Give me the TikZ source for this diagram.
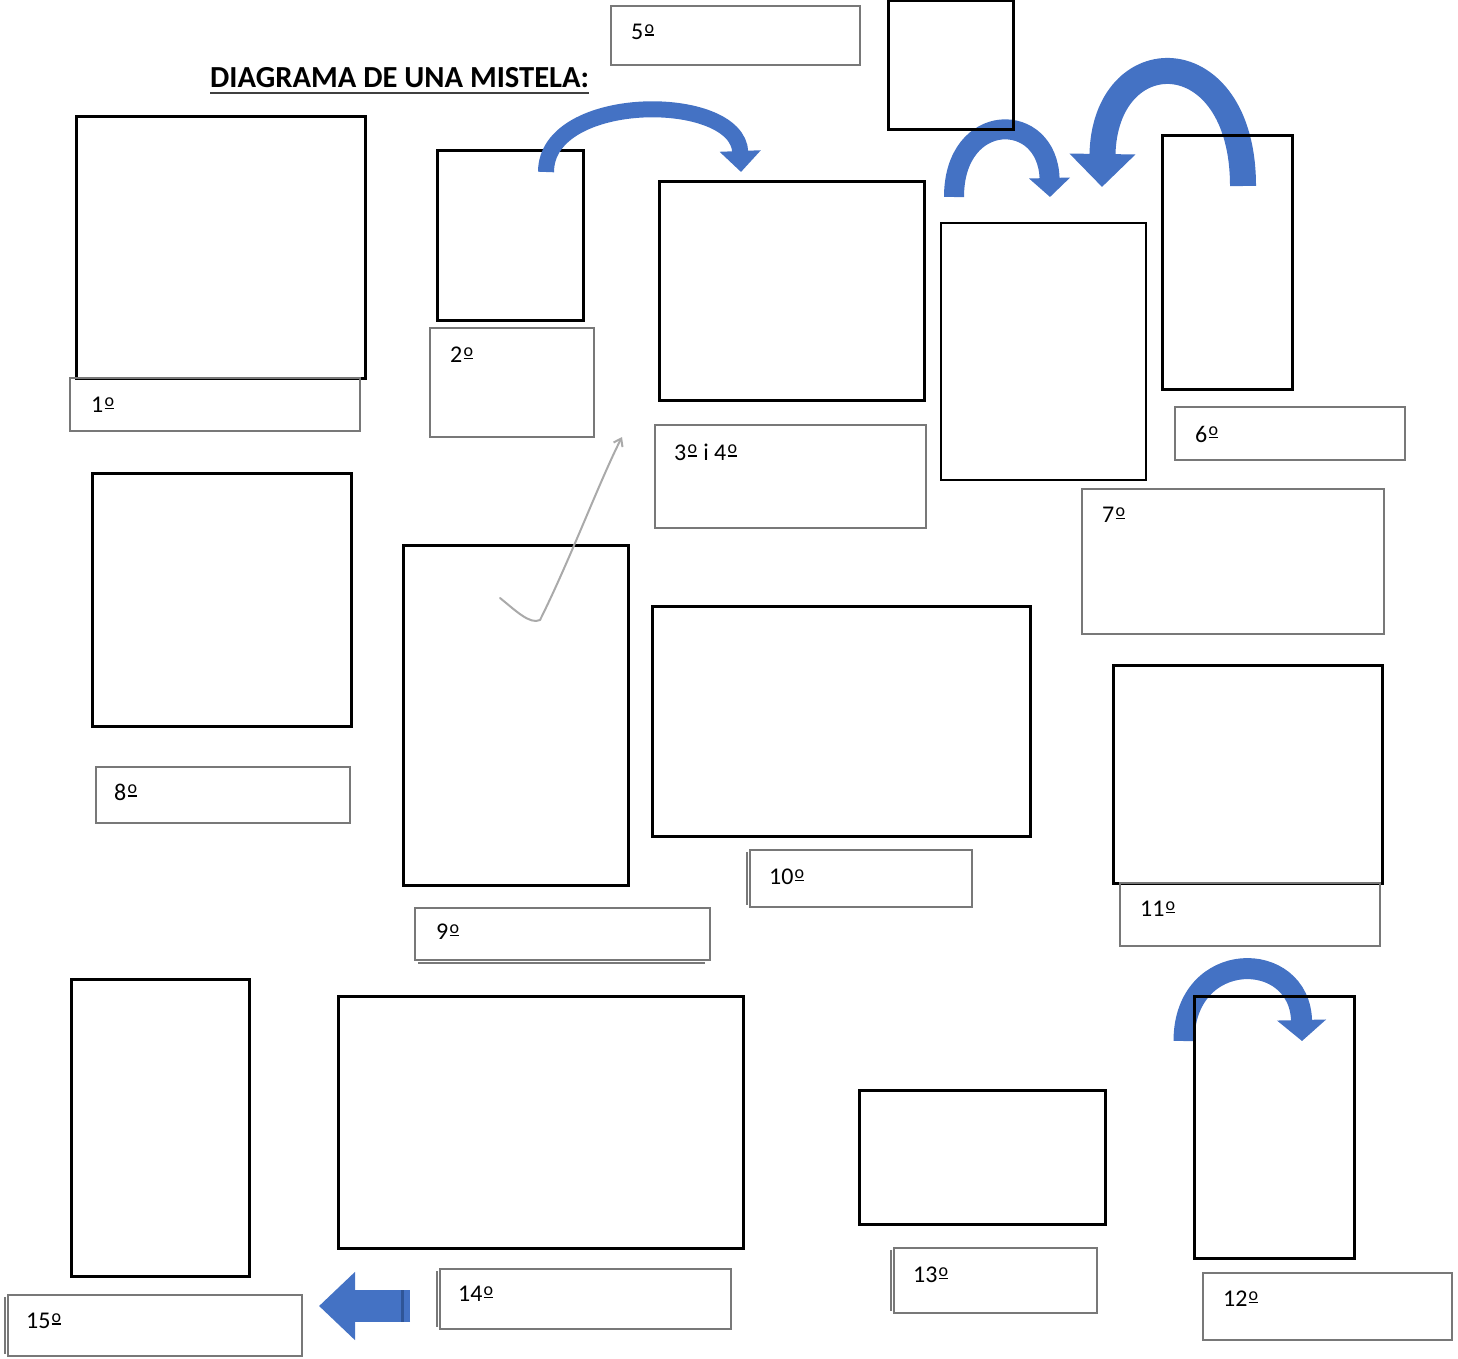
\documentclass[tikz,border=0pt]{standalone}
\usepackage{fontspec}
\setmainfont{Carlito}
\usetikzlibrary{arrows.meta,calc}
\definecolor{bandblue}{RGB}{68,114,196}
\definecolor{banddark}{RGB}{47,85,151}
\definecolor{taggrey}{RGB}{120,120,120}
\definecolor{pencil}{RGB}{170,170,170}
\newcommand{\ordo}{\kern1.2pt\raisebox{3.6pt}{\fontsize{18}{18}\selectfont\vbox{\hbox{o}\kern1.2pt\hrule height 1.6pt}}\kern0.8pt}

\begin{document}
\begin{tikzpicture}[x=1pt, y=-1pt,
    frame/.style={draw, line width=3pt, anchor=north west, inner sep=0pt, outer sep=0pt},
    tag/.style={draw=taggrey, line width=1.2pt, anchor=north west, inner sep=0pt, outer sep=0pt},
    num/.style={anchor=west, inner sep=0pt, font=\fontsize{24}{28}\selectfont},
    band/.style={draw=bandblue, line width=#1},
    title/.style={anchor=west, inner sep=0pt, font=\fontsize{30.6}{36}\selectfont\bfseries}]
  \useasboundingbox (0,0) rectangle (1458,1359);

  % title
  \node[title] (head) at (210,78) {DIAGRAMA DE UNA MISTELA:};
  \draw[line width=2pt, black!75] ($(head.west)+(0,15)$) -- ($(head.east)+(0,15)$);

  % blue arrows behind the frames
  \coordinate (b1) at (954,197);
  \coordinate (b2) at (1050,197);
  \draw[band=20pt, -{Triangle[length=19pt,width=40pt]}] (b1) .. controls (954,110) and (1048,110) .. (b2);
  \coordinate (c1) at (1243,186);
  \coordinate (c2) at (1102,187);
  \draw[band=26pt, -{Triangle[length=33pt,width=64pt]}] (c1) .. controls (1243,38) and (1104,38) .. (c2);
  \coordinate (d1) at (1184,1041);
  \coordinate (d2) at (1302,1041);
  \draw[band=21pt, -{Triangle[length=21pt,width=48pt]}] (d1) .. controls (1184,948) and (1300,948) .. (d2);
  \coordinate (e1) at (410,1306);
  \coordinate (e2) at (319,1306);
  \draw[band=32pt, -{Triangle[length=36pt,width=66pt]}] (e1) -- (e2);
  \draw[banddark, line width=3pt] (402,1290) -- (402,1322);

  % picture frames
  \node[frame, minimum width=289pt, minimum height=261pt] (f1) at (76,117) {};
  \node[frame, minimum width=146pt, minimum height=169pt] (f2) at (437,151) {};
  \node[frame, minimum width=265pt, minimum height=218pt] (f3) at (659,182) {};
  \node[frame, minimum width=125pt, minimum height=129pt] (f5) at (888,1) {};
  \node[frame, line width=2pt, minimum width=205pt, minimum height=257pt] (f7) at (941,223) {};
  \node[frame, minimum width=130pt, minimum height=253pt] (f6) at (1162,136) {};
  \node[frame, minimum width=259pt, minimum height=253pt] (f8) at (92,473) {};
  \node[frame, minimum width=225pt, minimum height=340pt] (f9) at (403,545) {};
  \node[frame, minimum width=378pt, minimum height=230pt] (f10) at (652,606) {};
  \node[frame, minimum width=269pt, minimum height=218pt] (f11) at (1113,665) {};
  \node[frame, minimum width=178pt, minimum height=297pt] (f15) at (71,979) {};
  \node[frame, minimum width=405pt, minimum height=252pt] (f14) at (338,996) {};
  \node[frame, minimum width=246pt, minimum height=134pt] (f13) at (859,1090) {};
  \node[frame, minimum width=160pt, minimum height=262pt] (f12) at (1194,996) {};

  % arrow from 2 to 3 lies over the frame
  \coordinate (a1) at (546,172);
  \coordinate (a2) at (741,172);
  \draw[band=16pt, -{Triangle[length=21pt,width=40pt]}] (a1) .. controls (546,92) and (738,92) .. (a2);

  % label boxes
  \node[tag, minimum width=249pt, minimum height=59pt] (t5) at (611,6) {};
  \node[tag, minimum width=290pt, minimum height=53pt] (t1) at (70,378) {};
  \node[tag, minimum width=164pt, minimum height=109pt] (t2) at (430,328) {};
  \node[tag, minimum width=271pt, minimum height=103pt] (t34) at (655,425) {};
  \node[tag, minimum width=230pt, minimum height=53pt] (t6) at (1175,407) {};
  \node[tag, minimum width=302pt, minimum height=145pt] (t7) at (1082,489) {};
  \node[tag, minimum width=254pt, minimum height=56pt] (t8) at (96,767) {};
  \node[tag, minimum width=295pt, minimum height=52pt] (t9) at (415,908) {};
  \node[tag, minimum width=222pt, minimum height=57pt] (t10) at (750,850) {};
  \node[tag, minimum width=260pt, minimum height=63pt] (t11) at (1120,883) {};
  \node[tag, minimum width=203pt, minimum height=65pt] (t13) at (894,1248) {};
  \node[tag, minimum width=249pt, minimum height=67pt] (t12) at (1203,1273) {};
  \node[tag, minimum width=291pt, minimum height=60pt] (t14) at (440,1269) {};
  \node[tag, minimum width=294pt, minimum height=61pt] (t15) at (8,1295) {};
  % doubled edges
  \draw[taggrey, line width=1.2pt] ($(t9.south west)+(3,3)$) -- ($(t9.south east)+(-5,3)$);
  \draw[taggrey, line width=1.2pt] ($(t10.north west)+(-3,2)$) -- ($(t10.south west)+(-3,-2)$);
  \draw[taggrey, line width=1.2pt] ($(t13.north west)+(-3,2)$) -- ($(t13.south west)+(-3,-2)$);
  \draw[taggrey, line width=1.2pt] ($(t14.north west)+(-3,2)$) -- ($(t14.south west)+(-3,-2)$);
  \draw[taggrey, line width=1.2pt] ($(t15.north west)+(-3,2)$) -- ($(t15.south west)+(-3,-2)$);

  \node[num] at ([shift={(20,26)}]t5.north west) {5\ordo};
  \node[num] at ([shift={(21,27)}]t1.north west) {1\ordo};
  \node[num] at ([shift={(20,27)}]t2.north west) {2\ordo};
  \node[num] at ([shift={(19,27)}]t34.north west) {3\ordo{} i 4\ordo};
  \node[num] at ([shift={(20,27)}]t6.north west) {6\ordo};
  \node[num] at ([shift={(20,26)}]t7.north west) {7\ordo};
  \node[num] at ([shift={(18,25)}]t8.north west) {8\ordo};
  \node[num] at ([shift={(21,24)}]t9.north west) {9\ordo};
  \node[num] at ([shift={(19,27)}]t10.north west) {10\ordo};
  \node[num] at ([shift={(20,26)}]t11.north west) {11\ordo};
  \node[num] at ([shift={(19,27)}]t13.north west) {13\ordo};
  \node[num] at ([shift={(20,26)}]t12.north west) {12\ordo};
  \node[num] at ([shift={(18,25)}]t14.north west) {14\ordo};
  \node[num] at ([shift={(18,26)}]t15.north west) {15\ordo};

  % pencil stroke from 9 to 3 i 4
  \coordinate (p1) at (500,598);
  \coordinate (p2) at (540,620);
  \coordinate (p3) at (622,437);
  \draw[pencil, line width=2pt, line cap=round, line join=round, -{Straight Barb[length=7pt,width=10pt]}]
    (p1) .. controls (515,610) and (530,625) .. (p2) .. controls (570,560) and (600,480) .. (p3);
\end{tikzpicture}
\end{document}
